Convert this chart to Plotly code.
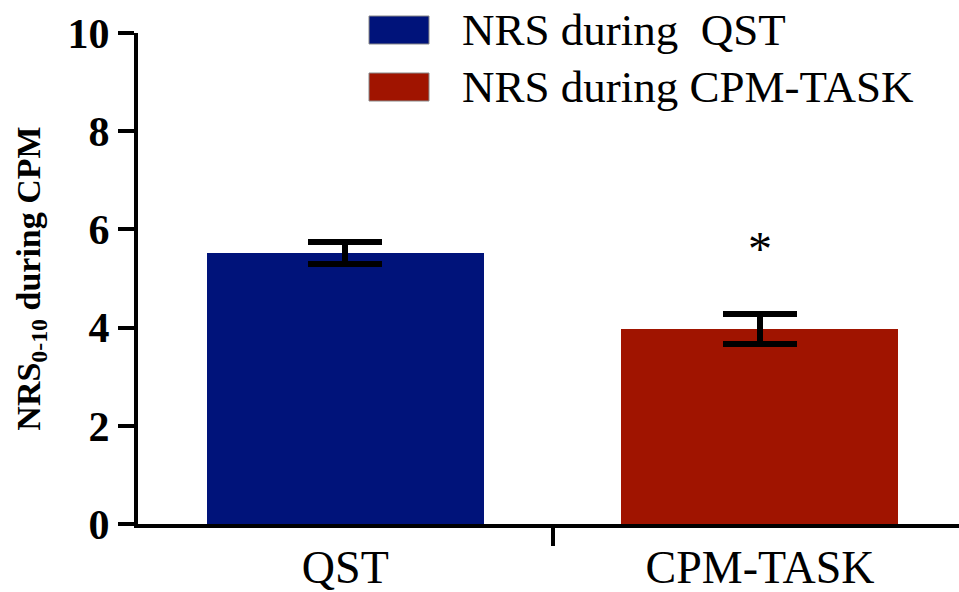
import plotly.graph_objects as go

# ---- data ----
categories = ["QST", "CPM-TASK"]
series_names = ["NRS during  QST", "NRS during CPM-TASK"]
means = [5.52, 3.97]
errors = [0.23, 0.30]
colors = ["#00137A", "#A01400"]
y_ticks = [0, 2, 4, 6, 8, 10]
significance = ["", "*"]
y_title = "NRS<sub>0-10</sub> during CPM"

# ---- layout constants (pixels) ----
W, H = 959, 592
L, R, T, B = 138, 0, 33, 68
FONT = "Liberation Serif"
pw = W - L - R
ph = H - T - B


def px_to_paper_x(px):
    return (px - L) / pw


def px_to_paper_y(py):
    return (H - B - py) / ph


fig = go.Figure()
for i, cat in enumerate(categories):
    fig.add_trace(go.Bar(
        x=[i], y=[means[i]], width=0.668,
        marker=dict(color=colors[i], line=dict(width=0)),
        error_y=dict(type="data", array=[errors[i]], thickness=6, width=37, color="black"),
        name=series_names[i], showlegend=False, xaxis="x", yaxis="y",
    ))

# invisible trace to activate the label axis
fig.add_trace(go.Scatter(x=list(range(len(categories))), y=[0] * len(categories),
                         mode="markers", marker=dict(opacity=0), xaxis="x2", yaxis="y",
                         showlegend=False, hoverinfo="skip"))

# significance marks
for i, s in enumerate(significance):
    if s:
        fig.add_annotation(x=i, y=means[i] + errors[i] + 1.35, xref="x", yref="y",
                           text=s, showarrow=False, yanchor="middle",
                           font=dict(family=FONT, size=48, color="black"))

# manual legend (large swatches like the original)
leg_rows = [(16, 44), (73, 101)]
for i, (y0, y1) in enumerate(leg_rows):
    fig.add_shape(type="rect", xref="paper", yref="paper",
                  x0=px_to_paper_x(369), x1=px_to_paper_x(429),
                  y0=px_to_paper_y(y1), y1=px_to_paper_y(y0),
                  fillcolor=colors[i], line=dict(color="#888888", width=1))
    fig.add_annotation(xref="paper", yref="paper",
                       x=px_to_paper_x(460), y=px_to_paper_y((y0 + y1) / 2),
                       xanchor="left", yanchor="middle", showarrow=False,
                       text=series_names[i].replace("  ", "&nbsp; "),
                       font=dict(family=FONT, size=45, color="black"))

axis_common = dict(showgrid=False, zeroline=False, automargin=False, fixedrange=True)
fig.update_layout(
    template="none",
    width=W, height=H,
    margin=dict(l=L, r=R, t=T, b=B, pad=0),
    paper_bgcolor="white", plot_bgcolor="white",
    showlegend=False,
    bargap=0,
    xaxis=dict(range=[-0.5, 1.48], tickmode="array", tickvals=[0.5],
               showticklabels=False,
               ticks="outside", ticklen=18, tickwidth=4, tickcolor="black",
               showline=True, linewidth=4, linecolor="black", **axis_common),
    xaxis2=dict(range=[-0.5, 1.48], overlaying="x", anchor="y", side="bottom",
                tickmode="array", tickvals=list(range(len(categories))), ticktext=categories,
                ticks="", showline=False, ticklabelstandoff=12,
                tickfont=dict(family=FONT, size=46, color="black"), **axis_common),
    yaxis=dict(range=[0, 10], tickmode="array", tickvals=y_ticks,
               ticks="outside", ticklen=16, tickwidth=4, tickcolor="black",
               showline=True, linewidth=4, linecolor="black",
               tickfont=dict(family=FONT, size=42, color="black", weight="bold"),
               title=dict(text=y_title, standoff=18,
                          font=dict(family=FONT, size=34, color="black", weight="bold")),
               **axis_common),
)

fig.write_html("out.html")
